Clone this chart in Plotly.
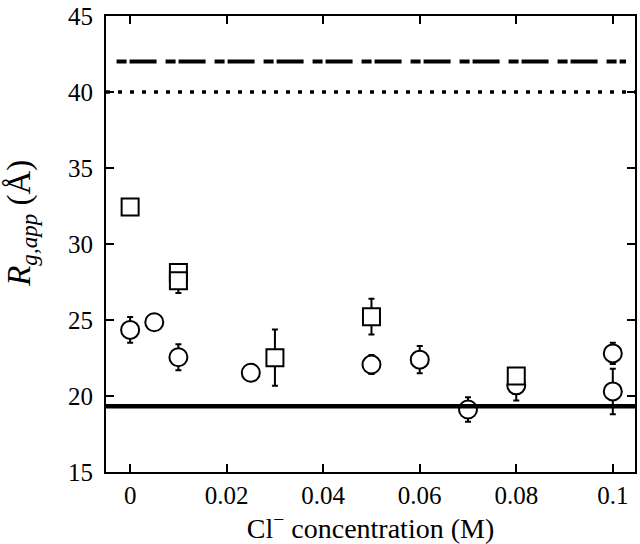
import plotly.graph_objects as go

# Data
circ_x = [0, 0.005, 0.01, 0.025, 0.05, 0.06, 0.07, 0.08, 0.1, 0.1]
circ_y = [24.35, 24.85, 22.55, 21.53, 22.07, 22.39, 19.11, 20.7, 22.8, 20.3]
circ_err = [0.85, 0, 0.85, 0, 0.63, 0.9, 0.8, 1.0, 0.7, 1.5]

sq_x = [0, 0.01, 0.01, 0.03, 0.05, 0.08]
sq_y = [32.44, 28.12, 27.58, 22.52, 25.22, 21.32]
sq_err = [0, 0, 0.8, 1.85, 1.18, 0]

ref_dashdot = 42
ref_dotted = 40
ref_solid = 19.33

x_ticks = [0, 0.02, 0.04, 0.06, 0.08, 0.1]
x_ticktext = ["0", "0.02", "0.04", "0.06", "0.08", "0.1"]
y_ticks = [15, 20, 25, 30, 35, 40, 45]

FONT = "Liberation Serif"

fig = go.Figure()

fig.add_hline(y=ref_dashdot, x0=0.02, x1=0.983,
              line=dict(color="black", width=4, dash="10px,3px,27px,9px"))
fig.add_hline(y=ref_dotted, x0=0, x1=1,
              line=dict(color="black", width=3.5, dash="4px,8px"))
fig.add_hline(y=ref_solid, x0=0, x1=1,
              line=dict(color="black", width=4.5))

fig.add_trace(go.Scatter(
    x=circ_x, y=circ_y, mode="markers",
    marker=dict(symbol="circle", size=18, color="white",
                line=dict(color="black", width=2)),
    error_y=dict(type="data", array=circ_err, visible=True,
                 color="black", thickness=2, width=3),
    showlegend=False))

fig.add_trace(go.Scatter(
    x=sq_x, y=sq_y, mode="markers",
    marker=dict(symbol="square", size=17, color="white",
                line=dict(color="black", width=2)),
    error_y=dict(type="data", array=sq_err, visible=True,
                 color="black", thickness=2, width=3),
    showlegend=False))

axis_common = dict(
    showline=True, linecolor="black", linewidth=2,
    mirror="ticks", ticks="inside", ticklen=8, tickwidth=2,
    tickcolor="black", showgrid=False, zeroline=False,
    ticklabeloverflow="allow",
    tickfont=dict(family=FONT, size=25, color="black"),
)

fig.update_xaxes(
    range=[-0.005, 0.1046], tickvals=x_ticks, ticktext=x_ticktext,
    title=dict(text="Cl<sup>−</sup> concentration (M)",
               font=dict(family=FONT, size=28, color="black"), standoff=4),
    **axis_common)
fig.update_yaxes(
    range=[15, 45], tickvals=y_ticks, ticklabelstandoff=6,
    **axis_common)

fig.add_annotation(
    text="<i>R</i><sub><i>g,app</i></sub> (Å)",
    xref="paper", yref="paper", x=-0.16, y=0.545,
    xanchor="center", yanchor="middle", textangle=-90, showarrow=False,
    font=dict(family=FONT, size=33, color="black"))

fig.update_layout(
    width=640, height=544,
    margin=dict(l=106, r=3, t=12, b=72),
    plot_bgcolor="white", paper_bgcolor="white",
    font=dict(family=FONT, color="black"),
)

fig.write_html("out.html", config={"displayModeBar": False},
               post_script="document.body.style.margin='0';document.body.style.overflow='hidden';")
